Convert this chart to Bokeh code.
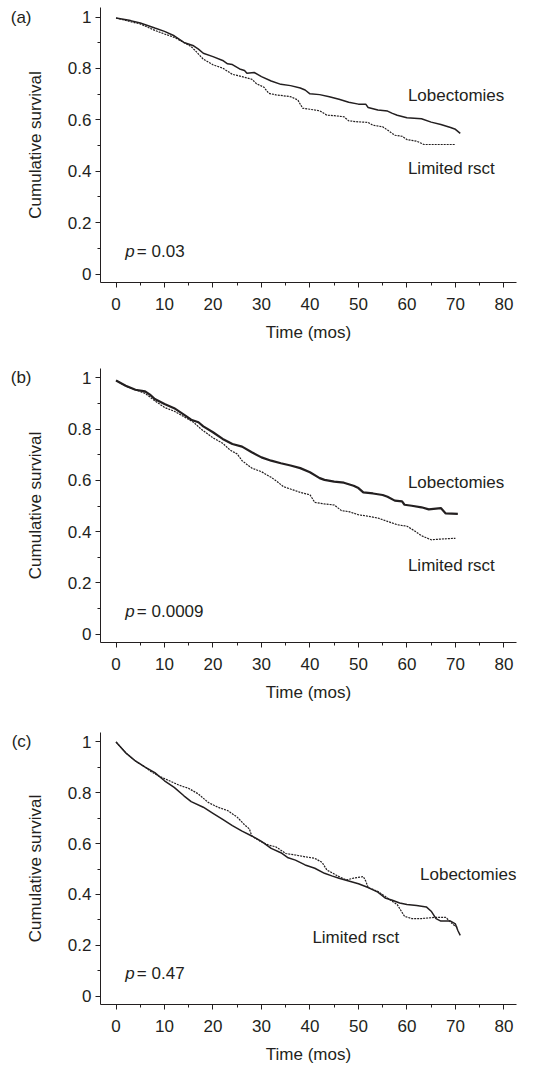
from bokeh.plotting import figure
from bokeh.layouts import column
from bokeh.models import (Label, SingleIntervalTicker, FixedTicker, CustomJSTickFormatter,
                          Range1d, LinearAxis)
from bokeh.embed import file_html
from bokeh.resources import INLINE

# ---------------- data ----------------
# Panel (a)
a_lob_t = [0, 3, 5, 8, 10, 12, 14, 16, 17, 18, 20, 22, 23, 24, 25.5, 26.5, 27, 28.5, 30, 32, 34, 36, 38, 39, 40, 42, 44, 46, 48, 50, 51.5, 52, 54, 56, 57, 58, 60, 63, 65, 67, 69, 70, 71]
a_lob_s = [0.996, 0.986, 0.977, 0.957, 0.944, 0.927, 0.901, 0.888, 0.875, 0.859, 0.846, 0.831, 0.818, 0.815, 0.798, 0.792, 0.781, 0.784, 0.768, 0.751, 0.738, 0.733, 0.724, 0.716, 0.701, 0.698, 0.690, 0.680, 0.668, 0.661, 0.661, 0.648, 0.638, 0.634, 0.625, 0.618, 0.608, 0.604, 0.591, 0.582, 0.570, 0.563, 0.547]
a_lim_t = [0, 3, 5, 8, 10, 12, 14, 15.5, 16.5, 18, 20, 22, 24, 26, 28, 29, 30.5, 31.5, 33, 36, 37.5, 38.5, 40, 42, 43.5, 45, 47, 48, 50, 52, 53, 55, 56, 57.5, 59, 60, 62, 63.5, 66, 70]
a_lim_s = [0.996, 0.982, 0.973, 0.948, 0.934, 0.921, 0.901, 0.885, 0.866, 0.836, 0.814, 0.801, 0.777, 0.768, 0.758, 0.740, 0.727, 0.703, 0.697, 0.690, 0.677, 0.645, 0.641, 0.635, 0.618, 0.616, 0.612, 0.596, 0.592, 0.590, 0.579, 0.573, 0.560, 0.540, 0.536, 0.523, 0.517, 0.504, 0.504, 0.504]

# Panel (b)
b_lob_t = [0, 2, 4, 6, 7, 8, 10, 12, 14, 15.5, 17, 18, 20, 22, 24, 26, 28, 30, 32, 34, 36, 38, 40, 42, 43, 45, 47, 49, 50, 51, 53, 55, 56, 57.5, 59, 59.5, 61, 63, 64.5, 67, 68, 70.5]
b_lob_s = [0.990, 0.970, 0.954, 0.948, 0.935, 0.918, 0.898, 0.882, 0.857, 0.837, 0.827, 0.811, 0.788, 0.762, 0.742, 0.732, 0.710, 0.690, 0.677, 0.667, 0.658, 0.648, 0.632, 0.609, 0.602, 0.595, 0.591, 0.579, 0.570, 0.553, 0.549, 0.543, 0.536, 0.521, 0.518, 0.505, 0.501, 0.495, 0.487, 0.492, 0.471, 0.469]
b_lim_t = [0, 2, 4, 6, 8, 10, 12, 14, 16, 17.5, 20, 22, 23.5, 25, 26, 28, 30, 32, 33, 34.5, 36.5, 38, 40, 41, 43, 45, 46.5, 48, 50, 52, 54, 56, 58, 60, 61.5, 63, 65, 67, 70]
b_lim_s = [0.990, 0.968, 0.954, 0.940, 0.911, 0.885, 0.870, 0.849, 0.827, 0.801, 0.766, 0.745, 0.719, 0.703, 0.677, 0.648, 0.634, 0.612, 0.599, 0.576, 0.563, 0.553, 0.544, 0.514, 0.508, 0.504, 0.482, 0.478, 0.466, 0.460, 0.453, 0.440, 0.427, 0.421, 0.404, 0.384, 0.368, 0.371, 0.374]

# Panel (c)
c_lob_t = [0, 2, 4, 6, 8, 10, 12, 14, 15.5, 18, 20, 22, 24, 26, 28, 30, 32, 34, 35.5, 37, 39, 41, 43, 44.5, 46, 48, 50, 52, 54, 55.5, 57, 58.5, 60, 62, 64, 65, 66, 67, 69, 70, 70.5, 71]
c_lob_s = [1.0, 0.957, 0.925, 0.901, 0.879, 0.847, 0.821, 0.788, 0.765, 0.743, 0.719, 0.695, 0.671, 0.649, 0.630, 0.609, 0.581, 0.564, 0.544, 0.535, 0.516, 0.503, 0.483, 0.473, 0.464, 0.453, 0.442, 0.427, 0.409, 0.386, 0.377, 0.366, 0.360, 0.356, 0.351, 0.334, 0.305, 0.295, 0.295, 0.284, 0.258, 0.239]
c_lim_t = [0, 2, 4, 6, 7, 9, 11, 13, 15, 17, 19, 21, 23, 25, 26.5, 27.5, 28, 30, 31.5, 33, 35, 37, 39, 41, 42.5, 43.5, 46, 47.5, 49, 51, 51.5, 52, 54, 55, 56.5, 58, 59.5, 61, 63, 66, 68, 69.5, 70.5]
c_lim_s = [1.0, 0.957, 0.925, 0.901, 0.886, 0.864, 0.847, 0.830, 0.817, 0.795, 0.762, 0.743, 0.730, 0.704, 0.674, 0.658, 0.630, 0.606, 0.594, 0.587, 0.561, 0.555, 0.548, 0.542, 0.526, 0.496, 0.470, 0.457, 0.464, 0.470, 0.453, 0.427, 0.412, 0.399, 0.379, 0.360, 0.314, 0.305, 0.305, 0.310, 0.310, 0.282, 0.269]

panel_tags = ["(a)", "(b)", "(c)"]
p_values = ["0.03", "0.0009", "0.47"]
series_names = ["Lobectomies", "Limited rsct"]
# label anchor positions (time, survival) per panel
lob_label_pos = [(60.2, 0.693), (60.2, 0.592), (62.7, 0.477)]
lim_label_pos = [(60.2, 0.410), (60.2, 0.267), (40.5, 0.232)]

x_label = "Time (mos)"
y_label = "Cumulative survival"

FONT = "Liberation Sans"
INK = "#231f20"
FS = "17px"

def make_panel(idx, lob_t, lob_s, lim_t, lim_s, height, top, bottom, lob_width):
    p = figure(width=548, height=height, output_backend="svg", toolbar_location=None,
               x_range=Range1d(-3.2, 82.6), y_range=Range1d(-0.033, 1.037),
               min_border_left=100, min_border_right=32,
               min_border_top=top, min_border_bottom=bottom)
    p.outline_line_color = None
    p.xgrid.visible = False
    p.ygrid.visible = False
    p.background_fill_color = "white"
    p.border_fill_color = "white"

    p.line(lob_t, lob_s, line_color=INK, line_width=lob_width)
    p.line(lim_t, lim_s, line_color=INK, line_width=1.2, line_dash="2 1")

    xa = p.xaxis[0]
    xa.ticker = SingleIntervalTicker(interval=10, num_minor_ticks=2)
    ya = p.yaxis[0]
    ya.ticker = FixedTicker(ticks=[0, 0.2, 0.4, 0.6, 0.8, 1.0],
                            minor_ticks=[0.1, 0.3, 0.5, 0.7, 0.9])
    ya.formatter = CustomJSTickFormatter(code="return (Math.round(tick*10)/10).toString();")
    for ax in (xa, ya):
        ax.axis_line_color = INK
        ax.major_tick_line_color = INK
        ax.minor_tick_line_color = INK
        ax.major_tick_in = 0
        ax.minor_tick_in = 0
        ax.major_tick_out = 5
        ax.minor_tick_out = 3
        ax.major_label_text_font = FONT
        ax.major_label_text_font_size = FS
        ax.major_label_text_color = INK
        ax.axis_label_text_font = FONT
        ax.axis_label_text_font_size = FS
        ax.axis_label_text_font_style = "normal"
        ax.axis_label_text_color = INK
    xa.axis_label = x_label
    xa.major_label_standoff = 10
    xa.axis_label_standoff = 10
    ya.axis_label = y_label
    ya.major_label_standoff = 4
    ya.axis_label_standoff = 20

    # panel tag drawn as the single label of an outer, line-less left axis
    tag_axis = LinearAxis(ticker=FixedTicker(ticks=[1.0], minor_ticks=[]),
                          formatter=CustomJSTickFormatter(code="return %r;" % panel_tags[idx]),
                          axis_line_color=None, major_tick_line_color=None,
                          minor_tick_line_color=None, major_tick_out=0, major_tick_in=0,
                          major_label_standoff=-9,
                          major_label_text_font=FONT, major_label_text_font_size=FS,
                          major_label_text_color=INK)
    p.add_layout(tag_axis, "left")

    common = dict(text_font=FONT, text_font_size=FS, text_color=INK, text_baseline="middle")
    p.add_layout(Label(x=1.9, y=0.088, text="p", text_font_style="italic", **common))
    p.add_layout(Label(x=4.3, y=0.088, text="= " + p_values[idx], **common))
    lx, ly = lob_label_pos[idx]
    p.add_layout(Label(x=lx, y=ly, text=series_names[0], **common))
    mx, my = lim_label_pos[idx]
    p.add_layout(Label(x=mx, y=my, text=series_names[1], **common))
    return p

pa = make_panel(0, a_lob_t, a_lob_s, a_lim_t, a_lim_s, 360, 7, 78, 1.5)
pb = make_panel(1, b_lob_t, b_lob_s, b_lim_t, b_lim_s, 364, 8, 82, 2.2)
pc = make_panel(2, c_lob_t, c_lob_s, c_lim_t, c_lim_s, 342, 8, 59, 1.5)

layout = column(pa, pb, pc, spacing=0)

with open("out.html", "w") as f:
    f.write(file_html(layout, INLINE))
